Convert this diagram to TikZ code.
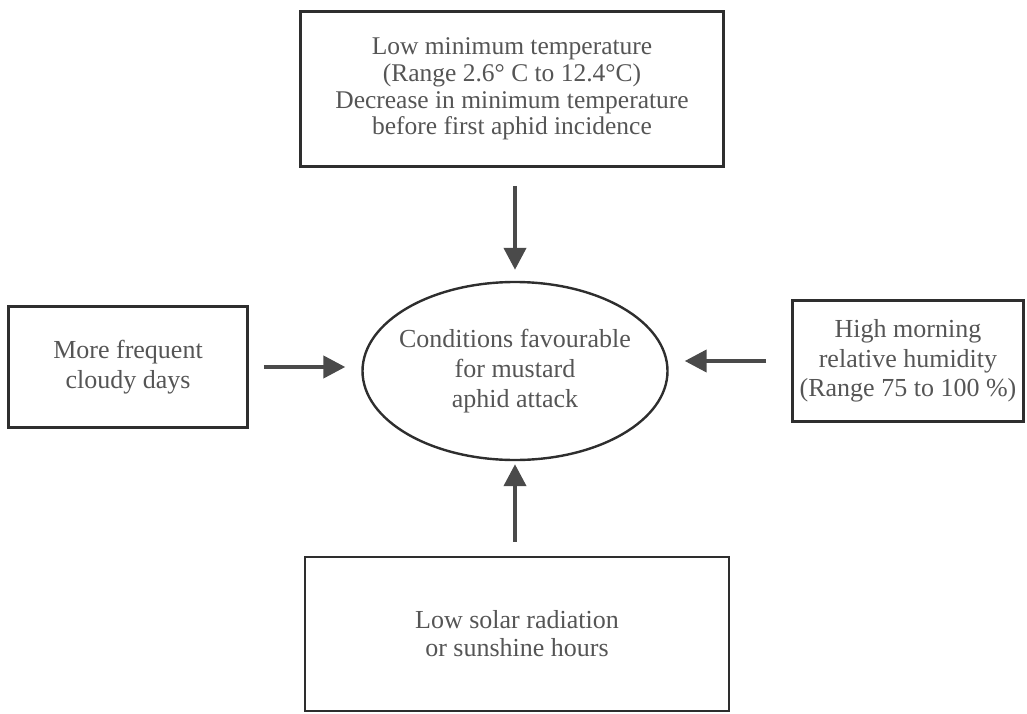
\documentclass[tikz,border=0pt]{standalone}
\usepackage{fontspec}
\setmainfont{Liberation Serif}
\usetikzlibrary{arrows.meta,shapes.geometric}
\definecolor{txt}{HTML}{555555}
\definecolor{lin}{HTML}{2E2E2E}
\definecolor{arw}{HTML}{4A4A4A}
\tikzset{
  box/.style={draw=lin, line width=2.6pt, rectangle, inner sep=0pt, align=center, text=txt,
    font=\fontsize{26}{29.5}\selectfont},
  oval/.style={draw=lin, line width=2.4pt, ellipse, inner xsep=-12pt, inner ysep=0pt, align=center, text=txt,
    font=\fontsize{26}{30}\selectfont},
  arr/.style={draw=arw, line width=4.2pt, -{Triangle[length=22pt,width=22pt]}}
}
\begin{document}
\begin{tikzpicture}[x=1pt,y=-1pt]
\useasboundingbox (0,0) rectangle (1027,714);
\node[box, minimum width=423pt, minimum height=155pt, font=\fontsize{25.5}{26.8}\selectfont] (top) at (512,89)
  {Low minimum temperature\\(Range 2.6\textdegree\ C to 12.4\textdegree C)\\Decrease in minimum temperature\\before first aphid incidence};
\node[box, minimum width=239pt, minimum height=121pt] (left) at (128,367)
  {More frequent\\cloudy days};
\node[oval, minimum width=305pt, minimum height=178pt] (ell) at (515,371)
  {Conditions favourable\\for mustard\\aphid attack};
\node[box, minimum width=231pt, minimum height=121pt] (right) at (908,361)
  {High morning\\relative humidity\\(Range 75 to 100 \%)};
\node[box, minimum width=424pt, minimum height=154pt, font=\fontsize{26}{28}\selectfont] (bot) at (517,634)
  {Low solar radiation\\or sunshine hours};
\draw[arr, shorten <=18pt, shorten >=11pt] (top.south -| ell.north) -- (ell.north);
\draw[arr, shorten <=15pt, shorten >=16pt] (left.east) -- (left.east -| ell.west);
\draw[arr, shorten <=25pt, shorten >=16pt] (right.west) -- (right.west -| ell.east);
\draw[arr, shorten <=14pt, shorten >=3pt] (bot.north -| ell.south) -- (ell.south);
\end{tikzpicture}
\end{document}
